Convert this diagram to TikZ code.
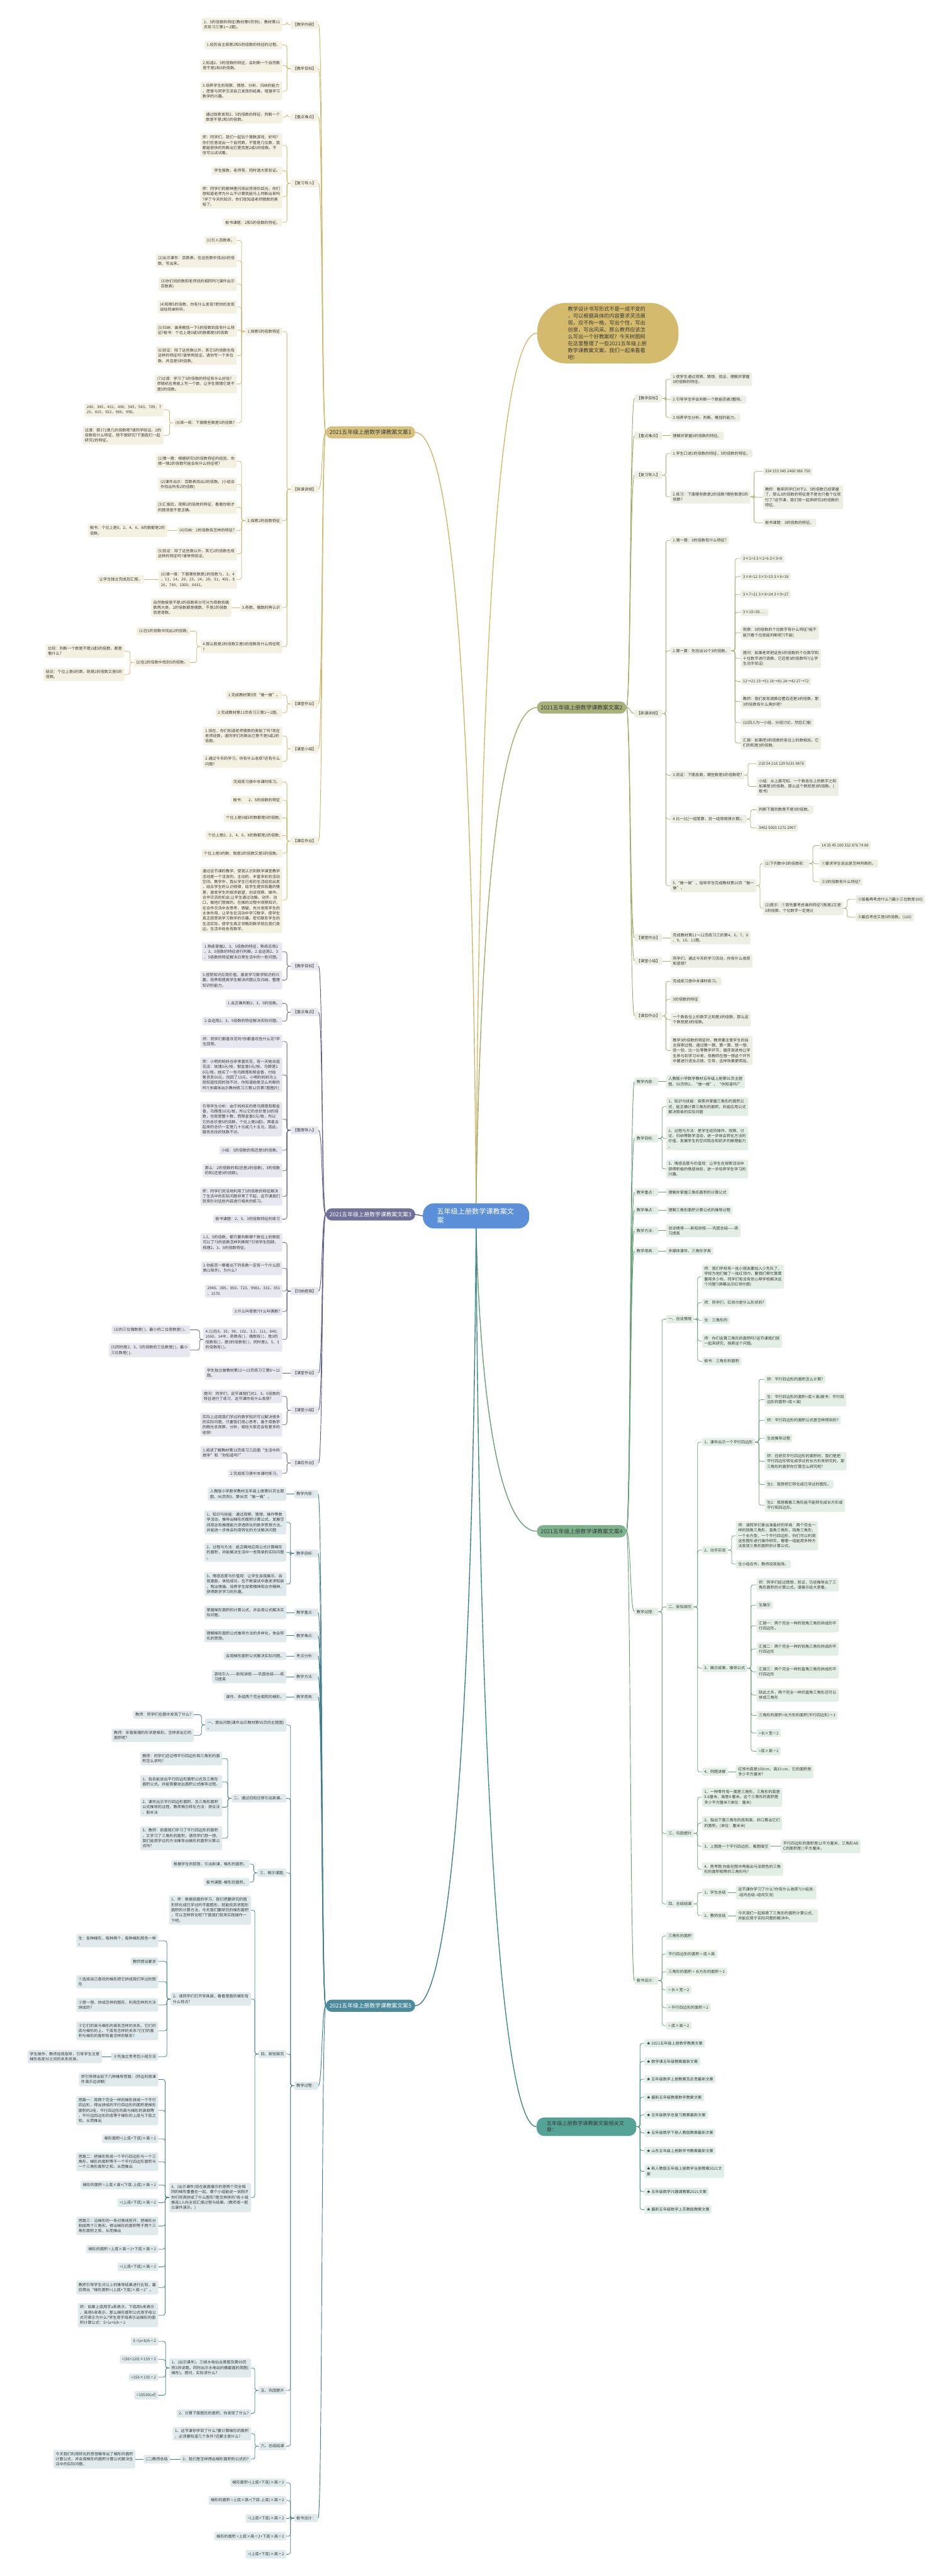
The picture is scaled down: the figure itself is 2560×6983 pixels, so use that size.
\documentclass[tikz,border=0pt]{standalone}
\usepackage{fontspec}
\setmainfont{Noto Sans CJK SC}

\definecolor{txt}{HTML}{3A3A3A}
\definecolor{cmid}{HTML}{5B8FD8}
\definecolor{cgold}{HTML}{D3BA6C}
\definecolor{br1}{HTML}{D6C27E}\definecolor{ln1}{HTML}{CDB86C}\definecolor{lf1}{HTML}{F4F1E2}
\definecolor{br2}{HTML}{A8B27A}\definecolor{ln2}{HTML}{A3AC6C}\definecolor{lf2}{HTML}{EEEFE4}
\definecolor{br3}{HTML}{70709A}\definecolor{ln3}{HTML}{5F5F88}\definecolor{lf3}{HTML}{E7E7EF}
\definecolor{br4}{HTML}{7CB38C}\definecolor{ln4}{HTML}{69A07A}\definecolor{lf4}{HTML}{E3EEE6}
\definecolor{br5}{HTML}{4B8B9B}\definecolor{ln5}{HTML}{3F7E8E}\definecolor{lf5}{HTML}{E0EAED}
\definecolor{br6}{HTML}{55A396}\definecolor{ln6}{HTML}{3E8C80}\definecolor{lf6}{HTML}{E1EFEB}
\colorlet{ln}{ln1}\colorlet{lf}{lf1}

\tikzset{
  leaf/.style={fill=lf, rounded corners=4pt, inner xsep=6pt, inner ysep=6pt,
    align=left, text=txt, font=\fontsize{10.5}{14.2}\selectfont},
  branch/.style={fill=#1, rounded corners=16pt, minimum width=242pt,
    minimum height=33pt, inner sep=0pt, font=\fontsize{15}{18}\selectfont},
  lk/.style={draw=ln, line width=1.3pt, rounded corners=6pt},
  sk/.style={draw=ln, line width=1.6pt},
  mk/.style={draw=#1, line width=2.4pt},
}

\begin{document}
\begin{tikzpicture}[x=1pt, y=-1pt]
  \fill[white] (0,0) rectangle (2560,6983);
  \useasboundingbox (0,0) rectangle (2560,6983);

  % centre and intro
  \node[fill=cmid, text=white, rounded corners=30pt, minimum width=288pt, minimum height=68pt,
    text width=212pt, inner xsep=38pt, align=left, font=\fontsize{19}{25}\selectfont]
    (c) at (1290,3296) {五年级上册数学课教案文\\案};
  \node[fill=cgold, text=txt, rounded corners=78pt, minimum width=383pt, minimum height=164pt,
    text width=216pt, inner xsep=83pt, align=left, font=\fontsize{14}{18.6}\selectfont]
    (g) at (1647,903) {教学设计书写形式不是一成不变的\\，可以根据具体的内容要求灵活展\\现，应不拘一格，写出个性，写出\\创意，写出风采。那么教师应该怎\\么写出一个好教案呢? 今天树图网\\在这里整理了一些2021五年级上册\\数学课教案文案，我们一起来看看\\吧!};

  % lesson 1
  \colorlet{ln}{ln1}\colorlet{lf}{lf1}
  \node[branch=br1, text=txt] (p1) at (1004,1172) {2021五年级上册数学课教案文案1};
  \node[leaf, anchor=east] (sa1) at (863,67) {【教学内容】};
  \node[leaf, anchor=east] (sa2) at (863,186) {【教学目标】};
  \node[leaf, anchor=east] (sa3) at (863,317) {【重点难点】};
  \node[leaf, anchor=east] (sa4) at (863,497) {【复习导入】};
  \node[leaf, anchor=east] (sa5) at (863,1326) {【新课讲授】};
  \node[leaf, anchor=east] (sa6) at (863,1908) {【课堂作业】};
  \node[leaf, anchor=east] (sa7) at (863,2030) {【课堂小结】};
  \node[leaf, anchor=east] (sa8) at (863,2280) {【课后作业】};
  \node[leaf, anchor=east] (a11) at (765,67) {2、5的倍数的特征(教材第9页例1，教材第11\\页练习三第1～2题)。};
  \node[leaf, anchor=east] (a21) at (765,122) {1.经历自主探索2和5的倍数的特征的过程。};
  \node[leaf, anchor=east] (a22) at (765,178) {2.知道2、5的倍数的特征，会判断一个自然数\\是不是2和5的倍数。};
  \node[leaf, anchor=east] (a23) at (765,247) {3.培养学生的观察、猜想、分析、归纳的能力\\，愿意与同学交流自己发现的结果，增强学习\\数学的兴趣。};
  \node[leaf, anchor=east] (a31) at (765,317) {通过探索发现2、5的倍数的特征，判断一个\\数是不是2和5的倍数。};
  \node[leaf, anchor=east] (a41) at (765,394) {师：同学们，我们一起玩个猜数游戏，好吗?\\你们任意说出一个自然数，不管是几位数，我\\都能很快的判断出它是否是2或5的倍数。不\\信可以试试看。};
  \node[leaf, anchor=east] (a42) at (765,463) {学生报数，老师答，同时请大家验证。};
  \node[leaf, anchor=east] (a43) at (765,533) {师：同学们的眼神里闪现出惊讶的目光。你们\\想知道老师为什么不计算就能马上判断出来吗\\?学了今天的知识，你们就知道老师猜数的奥\\秘了。};
  \node[leaf, anchor=east] (a44) at (765,603) {板书课题：2和5的倍数的特征。};
  \node[leaf, anchor=east] (a51) at (765,899) {1.探索5的倍数特征};
  \node[leaf, anchor=east] (a52) at (765,1411) {2.探索2的倍数特征};
  \node[leaf, anchor=east] (a53) at (765,1647) {3.奇数、偶数的再认识};
  \node[leaf, anchor=east] (a54) at (765,1753) {4.那么既是2的倍数又是5的倍数有什么特征呢\\?};
  \node[leaf, anchor=east] (a511) at (642,652) {(1)引入百数表。};
  \node[leaf, anchor=east] (a512) at (642,707) {(2)出示课件：百数表，在这些数中找出5的倍\\数，写出来。};
  \node[leaf, anchor=east] (a513) at (642,770) {(3)你们找的数和老师找的相同吗?(课件出示\\百数表)};
  \node[leaf, anchor=east] (a514) at (642,832) {(4)观察5的倍数，你有什么发现?把你的发现\\说给同桌听听。};
  \node[leaf, anchor=east] (a515) at (642,895) {(5)归纳：谁来概括一下5的倍数到底有什么特\\征?板书：个位上是0或5的数都是5的倍数};
  \node[leaf, anchor=east] (a516) at (642,964) {(6)验证：除了这些数以外，其它5的倍数也有\\这样的特征吗?请举例验证。请你写一个多位\\数，并且是5的倍数。};
  \node[leaf, anchor=east] (a517) at (642,1041) {(7)过渡：学习了5的倍数的特征有什么好处?\\师随机在黑板上写一个数，让学生猜猜它是不\\是5的倍数。};
  \node[leaf, anchor=east] (a518) at (642,1146) {(8)练一练：下面哪些数是5的倍数?};
  \node[leaf, anchor=east] (a5181) at (443,1111) {240，345，431，490，545，543，709，7\\25，815，922，986，990。};
  \node[leaf, anchor=east] (a5182) at (443,1180) {过渡：那172是几的倍数呢?请同学验证。2的\\倍数有什么特征，想不想研究?下面我们一起\\研究2的特征。};
  \node[leaf, anchor=east] (a521) at (642,1250) {(1)猜一猜：根据研究5的倍数特征的经验，你\\猜一猜2的倍数可能会有什么特征呢?};
  \node[leaf, anchor=east] (a522) at (642,1313) {(2)课件出示：百数表找出2的倍数。(小组合\\作找出所有2的倍数)};
  \node[leaf, anchor=east] (a523) at (642,1375) {(3)汇报后，观察2的倍数的特征，看看你刚才\\的猜测是不是正确。};
  \node[leaf, anchor=east] (a524) at (642,1438) {(4)归纳：2的倍数有怎样的特征?};
  \node[leaf, anchor=east] (a525) at (642,1501) {(5)验证：除了这些数以外，其它2的倍数也有\\这样的特征吗?请举例验证。};
  \node[leaf, anchor=east] (a526) at (642,1571) {(6)填一填：下面哪些数是2的倍数?1，3，4\\，11，14，20，23，24，28，31，401，8\\26，740，1000，6431。};
  \node[leaf, anchor=east] (a5241) at (453,1438) {板书：个位上是0、2、4、6、8的数都是2的\\倍数。};
  \node[leaf, anchor=east] (a5261) at (391,1571) {让学生独立完成后汇报。};
  \node[leaf, anchor=east] (a531) at (627,1647) {自然数按是不是2的倍数来分可分为奇数和偶\\数两大类，2的倍数都是偶数，不是2的倍数\\就是奇数。};
  \node[leaf, anchor=east] (a541) at (515,1711) {(1)在5的倍数中找出2的倍数;};
  \node[leaf, anchor=east] (a542) at (515,1796) {(2)在2的倍数中找到5的倍数。};
  \node[leaf, anchor=east] (a5421) at (337,1765) {比较：判断一个数是不是2或5的倍数，都是\\看什么?};
  \node[leaf, anchor=east] (a5422) at (337,1828) {结论：个位上是0的数，既是2的倍数又是5的\\倍数。};
  \node[leaf, anchor=east] (a61) at (765,1884) {1.完成教材第9页“做一做”。};
  \node[leaf, anchor=east] (a62) at (765,1932) {2.完成教材第11页练习三第1～2题。};
  \node[leaf, anchor=east] (a71) at (765,1995) {1.现在，你们知道老师猜数的奥秘了吗?现在\\老师说数，请同学们判断出它是不是5或2的\\倍数。};
  \node[leaf, anchor=east] (a72) at (765,2064) {2.通过今天的学习，你有什么收获?还有什么\\问题?};
  \node[leaf, anchor=east] (a81) at (765,2120) {完成练习册中本课时练习。};
  \node[leaf, anchor=east] (a82) at (765,2169) {板书：　2、5的倍数的特征};
  \node[leaf, anchor=east] (a83) at (765,2217) {个位上是0或5的数都是5的倍数;};
  \node[leaf, anchor=east] (a84) at (765,2265) {个位上是0、2、4、6、8的数都是2的倍数;};
  \node[leaf, anchor=east] (a85) at (765,2313) {个位上是0的数，既是2的倍数又是5的倍数。};
  \node[leaf, anchor=east] (a86) at (765,2440) {通过这节课的教学，使我认识到数学课堂教学\\活动是一个活泼的、主动的、丰富多彩的活动\\空间。教学中，我从学生已有的生活经验出发\\，结合学生的认识规律，给学生提供有趣的情\\景，激发学生的探求欲望，创设观察、操作、\\合作交流的机会;让学生通过动脑、动手、动\\口，做他们想做的，在做的过程中观察知识，\\在合作交流中去思考、质疑。充分发挥学生的\\主体作用，让学生在活动中学习数学，使学生\\真正感受到学习数学的乐趣。密切联系学生的\\生活实际，使学生真正领略到数学就在我们身\\边，生活中处处有数学。};
  \foreach \n in {sa1,sa2,sa3,sa4,sa5,sa6,sa7,sa8}
    \draw[sk] (p1.west) .. controls +(-12,0) and +(12,0) .. (\n.east);
  \draw[lk] (sa1.west) -- ++(-10,0) |- (a11.east);
  \foreach \n in {a21,a22,a23} \draw[lk] (sa2.west) -- ++(-10,0) |- (\n.east);
  \draw[lk] (sa3.west) -- ++(-10,0) |- (a31.east);
  \foreach \n in {a41,a42,a43,a44} \draw[lk] (sa4.west) -- ++(-10,0) |- (\n.east);
  \foreach \n in {a51,a52,a53,a54} \draw[lk] (sa5.west) -- ++(-10,0) |- (\n.east);
  \foreach \n in {a511,a512,a513,a514,a515,a516,a517,a518} \draw[lk] (a51.west) -- ++(-10,0) |- (\n.east);
  \foreach \n in {a5181,a5182} \draw[lk] (a518.west) -- ++(-10,0) |- (\n.east);
  \foreach \n in {a521,a522,a523,a524,a525,a526} \draw[lk] (a52.west) -- ++(-10,0) |- (\n.east);
  \draw[lk] (a524.west) -- (a5241.east);
  \draw[lk] (a526.west) -- (a5261.east);
  \draw[lk] (a53.west) -- (a531.east);
  \foreach \n in {a541,a542} \draw[lk] (a54.west) -- ++(-10,0) |- (\n.east);
  \foreach \n in {a5421,a5422} \draw[lk] (a542.west) -- ++(-10,0) |- (\n.east);
  \foreach \n in {a61,a62} \draw[lk] (sa6.west) -- ++(-10,0) |- (\n.east);
  \foreach \n in {a71,a72} \draw[lk] (sa7.west) -- ++(-10,0) |- (\n.east);
  \foreach \n in {a81,a82,a83,a84,a85,a86} \draw[lk] (sa8.west) -- ++(-10,0) |- (\n.east);

  % lesson 3
  \colorlet{ln}{ln3}\colorlet{lf}{lf3}
  \node[branch=br3, text=white] (p3) at (1004,3292) {2021五年级上册数学课教案文案3};
  \node[leaf, anchor=east] (sc1) at (863,2619) {【教学目标】};
  \node[leaf, anchor=east] (sc2) at (863,2744) {【重点难点】};
  \node[leaf, anchor=east] (sc3) at (863,3064) {【整理导入】};
  \node[leaf, anchor=east] (sc4) at (863,3500) {【归纳提高】};
  \node[leaf, anchor=east] (sc5) at (863,3722) {【课堂作业】};
  \node[leaf, anchor=east] (sc6) at (863,3823) {【课堂小结】};
  \node[leaf, anchor=east] (sc7) at (863,3966) {【课后作业】};
  \node[leaf, anchor=east] (c11) at (765,2580) {1.熟练掌握2、3、5倍数的特征，熟练应用2\\、3、5倍数的特征进行判断。2.会运用2、3\\、5倍数的特征解决日常生活中的一些问题。};
  \node[leaf, anchor=east] (c12) at (765,2657) {3.感受知识应用价值，激发学习数学知识的兴\\趣，培养和提高学生解决问题以及归纳、整理\\知识的能力。};
  \node[leaf, anchor=east] (c21) at (765,2720) {1.会正确判断2、3、5的倍数。};
  \node[leaf, anchor=east] (c22) at (765,2768) {2.会运用2、3、5倍数的特征解决实际问题。};
  \node[leaf, anchor=east] (c31) at (765,2823) {师：同学们都喜欢花吗?你都喜欢些什么花?学\\生回答。};
  \node[leaf, anchor=east] (c32) at (765,2914) {师：小明的妈妈也非常喜欢花，有一天她去逛\\花店：玫瑰3元/枝，郁金香5元/枝，马蹄莲1\\0元/枝，她买了一些马蹄莲和郁金香，付给\\售货员50元，找回了13元，小明的妈妈马上\\就知道找回的钱不对。你知道她是怎么判断的\\吗?(多媒体出示教材练习三第12页第7题图片)};
  \node[leaf, anchor=east] (c33) at (765,3034) {引导学生分析：由于妈妈买的是马蹄莲和郁金\\香，马蹄莲10元/枝，所以它的总价是10的倍\\数，也就是整十数，而郁金香5元/枝，所以\\它的总价是5的倍数，个位上是0或5，两者合\\起来的总价一定是几十元或几十五元，因此，\\服务员找的钱数不对。};
  \node[leaf, anchor=east] (c34) at (765,3118) {小结：5的倍数的和还是5的倍数。};
  \node[leaf, anchor=east] (c35) at (765,3173) {那么：2的倍数的和(还是2的倍数)，3的倍数\\的和(还是3的倍数)。};
  \node[leaf, anchor=east] (c36) at (765,3243) {师：同学们灵活地利用了5的倍数的特征解决\\了生活中的实际问题非常了不起，这节课我们\\就来针对这些内容进行相关的练习。};
  \node[leaf, anchor=east] (c37) at (765,3305) {板书课题：2、5、3的倍数特征的练习};
  \node[leaf, anchor=east] (c41) at (765,3368) {1.2、5的倍数，都只要判断哪个数位上的数就\\可以了?3的倍数怎样判断呢?引领学生回顾，\\梳理2、3、5的倍数特征。};
  \node[leaf, anchor=east] (c42) at (765,3438) {2.你能否一眼看出下列各数一定有一个什么因\\数(1除外)，为什么?};
  \node[leaf, anchor=east] (c43) at (765,3500) {2940、305、850、723、9981、332、351\\、1570.};
  \node[leaf, anchor=east] (c44) at (765,3555) {3.什么叫奇数?什么叫偶数?};
  \node[leaf, anchor=east] (c45) at (765,3631) {4.(1)在8，35，96，102，3.2，111，840，\\1060，14中，奇数有( )，偶数有( )，是3的\\倍数有( )，是5的倍数有( )，同时是2、5、3\\的倍数有( )。};
  \node[leaf, anchor=east] (c451) at (515,3605) {(2)的三位偶数是( )，最小的二位奇数是( )。};
  \node[leaf, anchor=east] (c452) at (515,3660) {(3)同时是2、3、5的倍数的三位数是( )，最小\\三位数是( )。};
  \node[leaf, anchor=east] (c51) at (765,3722) {学生独立做教材第12～13页练习三第8～12\\题。};
  \node[leaf, anchor=east] (c61) at (765,3785) {提问：同学们，这节课我们对2、3、5倍数的\\特征进行了练习，这节课你有什么收获?};
  \node[leaf, anchor=east] (c62) at (765,3862) {实际上运用我们学过的数学知识可以解决很多\\的实际问题，只要我们用心思考，善于用数学\\的眼光去观察，分析，相信大家还会有更多的\\收获!};
  \node[leaf, anchor=east] (c71) at (765,3938) {1.阅读了解教材第13页练习三后面“生活中的\\数学”和“你知道吗?”};
  \node[leaf, anchor=east] (c72) at (765,3994) {2.完成练习册中本课时练习。};
  \foreach \n in {sc1,sc2,sc3,sc4,sc5,sc6,sc7}
    \draw[sk] (p3.west) .. controls +(-12,0) and +(12,0) .. (\n.east);
  \foreach \n in {c11,c12} \draw[lk] (sc1.west) -- ++(-10,0) |- (\n.east);
  \foreach \n in {c21,c22} \draw[lk] (sc2.west) -- ++(-10,0) |- (\n.east);
  \foreach \n in {c31,c32,c33,c34,c35,c36,c37} \draw[lk] (sc3.west) -- ++(-10,0) |- (\n.east);
  \foreach \n in {c41,c42,c43,c44,c45} \draw[lk] (sc4.west) -- ++(-10,0) |- (\n.east);
  \foreach \n in {c451,c452} \draw[lk] (c45.west) -- ++(-10,0) |- (\n.east);
  \draw[lk] (sc5.west) -- (c51.east);
  \foreach \n in {c61,c62} \draw[lk] (sc6.west) -- ++(-10,0) |- (\n.east);
  \foreach \n in {c71,c72} \draw[lk] (sc7.west) -- ++(-10,0) |- (\n.east);

  % lesson 5
  \colorlet{ln}{ln5}\colorlet{lf}{lf5}
  \node[branch=br5, text=white] (p5) at (1004,5437) {2021五年级上册数学课教案文案5};
  \node[leaf, anchor=east] (se1) at (862,4050) {教学内容：};
  \node[leaf, anchor=east] (se2) at (862,4211) {教学目标：};
  \node[leaf, anchor=east] (se3) at (862,4371) {教学重点：};
  \node[leaf, anchor=east] (se4) at (862,4434) {教学难点：};
  \node[leaf, anchor=east] (se5) at (862,4489) {考点分析：};
  \node[leaf, anchor=east] (se6) at (862,4545) {教学方法：};
  \node[leaf, anchor=east] (se7) at (862,4600) {教学用具：};
  \node[leaf, anchor=east] (se8) at (862,5654) {教学过程：};
  \node[leaf, anchor=east] (se9) at (862,6826) {板书设计：};
  \node[leaf, anchor=east] (e11) at (776,4050) {人教版小学数学教材五年级上册第95页主题\\图、96页例3、第96页“做一做”，};
  \node[leaf, anchor=east] (e21) at (776,4127) {1、知识与技能：通过观察、猜想、操作等数\\学活动，推导出梯形的面积计算公式。发展空\\间观念和推理能力渗透转化的数学思想方法。\\并能进一步体会利用转化的方法解决问题};
  \node[leaf, anchor=east] (e22) at (776,4208) {2、过程与方法：能正确地应用公式计算梯形\\的面积，并能解决生活中一些简单的实际问题\\。};
  \node[leaf, anchor=east] (e23) at (776,4294) {3、情感态度与价值观：让学生自我展示、自\\我激励，体验成功，在不断尝试中激发求知欲\\，陶冶情操。培养学生探索精神和合作精神，\\获得数学学习的乐趣。};
  \node[leaf, anchor=east] (e31) at (776,4371) {掌握梯形面积的计算公式，并会用公式解决实\\际问题。};
  \node[leaf, anchor=east] (e41) at (776,4434) {理解梯形面积公式推导方法的多样化，体会转\\化的思想。};
  \node[leaf, anchor=east] (e51) at (776,4489) {会用梯形面积公式解决实际问题。};
  \node[leaf, anchor=east] (e61) at (776,4545) {游戏引入——新知讲授——巩固总结——练\\习提高};
  \node[leaf, anchor=east] (e71) at (776,4600) {课件、多组两个完全相同的梯形。};
  \node[leaf, anchor=east] (e81) at (776,4676) {一、提出问题(课件出示教材第95页的主题图)\\。};
  \node[leaf, anchor=east] (e811) at (525,4648) {教师：同学们在图中发现了什么?};
  \node[leaf, anchor=east] (e812) at (525,4704) {教师：车窗玻璃的形状是梯形。怎样求出它的\\面积呢?};
  \node[leaf, anchor=east] (e82) at (776,4875) {二、通过旧知迁移引出新课。};
  \node[leaf, anchor=east] (e821) at (602,4767) {教师：同学们还记得平行四边形和三角形的面\\积怎么求吗?};
  \node[leaf, anchor=east] (e822) at (602,4830) {1、指名能说出平行四边形面积公式及三角形\\面积公式。并能简要说出面积公式推导过程。};
  \node[leaf, anchor=east] (e823) at (602,4899) {2、课件出示平行四边形面积、及三角形面积\\公式推导的过程，教师揭示转化方法：拼合法\\、割补法};
  \node[leaf, anchor=east] (e824) at (602,4983) {3、教师：前面我们学习了平行四边形的面积\\，又学习了三角形的面积，请同学们想一想，\\我们能用学过的方法推导出梯形的面积计算公\\式吗?};
  \node[leaf, anchor=east] (e83) at (776,5077) {三、揭示课题;};
  \node[leaf, anchor=east] (e831) at (676,5053) {根据学生的回答，引出新课，梯形的面积。};
  \node[leaf, anchor=east] (e832) at (676,5102) {板书课题--梯形的面积。};
  \node[leaf, anchor=east] (e84) at (776,5568) {四、新知探究};
  \node[leaf, anchor=east] (e841) at (680,5178) {1、师：根据前面的学习，我们把要研究的图\\形转化成已学过的平面图形，就能找到求图形\\面积的计算方法，今天我们要研究的梯形面积\\，可以怎样转化呢?下面我们就来实践操作一\\下吧。};
  \node[leaf, anchor=east] (e842) at (680,5419) {2、请同学们打开学具袋，看看里面的梯形有\\什么特点?};
  \node[leaf, anchor=east] (e8421) at (429,5261) {生：各种梯形，每种两个，每种梯形颜色一样\\。};
  \node[leaf, anchor=east] (e8422) at (429,5317) {教师提出要求};
  \node[leaf, anchor=east] (e8423) at (429,5372) {①选择自己喜欢的梯形把它拼成我们学过的图\\形};
  \node[leaf, anchor=east] (e8424) at (429,5435) {②想一想，拼成怎样的图形，利用怎样的方法\\拼成的?};
  \node[leaf, anchor=east] (e8425) at (429,5505) {③它们的高与梯形的高有怎样的关系，它们的\\底与梯形的上、下底有怎样的关系?它们的面\\积与梯形的面积有着怎样的联系?};
  \node[leaf, anchor=east] (e8426) at (429,5575) {④先独立思考后小组交流};
  \node[leaf, anchor=east] (e84261) at (276,5575) {学生操作，教师巡视指导，引导学生注意\\梯形各部分之间的关系找准。};
  \node[leaf, anchor=east] (e843) at (680,5957) {3、(出示课件)现在画面展示的是两个完全相\\同的梯形重叠在一起，哪个小组能说一说刚才\\你们将其拼成了什么图形?是怎样拼的?各小组\\推选1人向全班汇报过程与结果。(教师逐一配\\以课件演示。)};
  \node[leaf, anchor=east] (e843a) at (429,5637) {师引导得出如下几种推导思路：(师边利用课\\件演示边讲解)};
  \node[leaf, anchor=east] (e843b) at (429,5721) {思路一：用两个完全一样的梯形拼成一个平行\\四边形，得出拼成的平行四边形的面积是梯形\\面积的2倍，平行四边形的高与梯形的高相等\\，平行边四边形的底等于梯形的上底与下底之\\和，从而推出};
  \node[leaf, anchor=east] (e843c) at (429,5798) {梯形面积=(上底+下底)×高÷2};
  \node[leaf, anchor=east] (e843d) at (429,5860) {思路二：把梯形剪成一个平行四边形与一个三\\角形，梯形的面积等于一个平行四边形面积与\\一个三角形面积之和，从而推出};
  \node[leaf, anchor=east] (e843e) at (429,5923) {梯形的面积 =上底×高+(下底-上底)×高÷2};
  \node[leaf, anchor=east] (e843f) at (429,5971) {=(上底+下底)×高÷2};
  \node[leaf, anchor=east] (e843g) at (429,6034) {思路三：沿梯形的一条对角线剪开，把梯形分\\割成两个三角形。得出梯形的面积等于两个三\\角形面积之和，从而推出};
  \node[leaf, anchor=east] (e843h) at (429,6097) {梯形的面积 =上底×高÷2+下底×高÷2};
  \node[leaf, anchor=east] (e843i) at (429,6145) {=(上底+下底)×高÷2};
  \node[leaf, anchor=east] (e843j) at (429,6201) {教师引导学生对以上的推导结果进行比较，最\\后得出“梯形面积=(上底+下底)×高÷2”。};
  \node[leaf, anchor=east] (e843k) at (429,6276) {师：如果上底用字a来表示，下底用b来表示\\，高用h来表示，那么梯形面积公式用字母公\\式可表示为什么?学生用字母表示出梯形的面\\积计算公式：S=(a+b)h÷2};
  \node[leaf, anchor=east] (e85) at (776,6480) {五、巩固提升};
  \node[leaf, anchor=east] (e851) at (680,6419) {1、(出示课件)，三峡水电站全景图及第89页\\例3并读题。同时出示水电站的横截面的简图(\\梯形)。提问，实际求什么?};
  \node[leaf, anchor=east] (e851a) at (429,6347) {S =(a+b)h÷2};
  \node[leaf, anchor=east] (e851b) at (429,6396) {=(36+120)×135÷2};
  \node[leaf, anchor=east] (e851c) at (429,6444) {=156×135÷2};
  \node[leaf, anchor=east] (e851d) at (429,6493) {=10530(㎡)};
  \node[leaf, anchor=east] (e852) at (680,6542) {2、计算下面图形的面积，你发现了什么?};
  \node[leaf, anchor=east] (e86) at (776,6631) {六、总结结课};
  \node[leaf, anchor=east] (e861) at (680,6597) {1、这节课你学到了什么?要计算梯形的面积\\，必须要知道几个条件?还要注意什么?};
  \node[leaf, anchor=east] (e862) at (680,6666) {2、我们是怎样得出梯形面积的公式的?};
  \node[leaf, anchor=east] (e8621) at (461,6666) {(二)教师总结};
  \node[leaf, anchor=east] (e8622) at (367,6666) {今天我们利用转化的思想推导出了梯形的面积\\计算公式，并会用梯形的面积计算公式解决生\\活中的实际问题。};
  \node[leaf, anchor=east] (e91) at (776,6730) {梯形面积=(上底+下底)×高÷2};
  \node[leaf, anchor=east] (e92) at (776,6778) {梯形的面积 =上底×高+(下底-上底)×高÷2};
  \node[leaf, anchor=east] (e93) at (776,6827) {=(上底+下底)×高÷2};
  \node[leaf, anchor=east] (e94) at (776,6875) {梯形的面积 =上底×高÷2+下底×高÷2};
  \node[leaf, anchor=east] (e95) at (776,6924) {=(上底+下底)×高÷2};
  \foreach \n in {se1,se2,se3,se4,se5,se6,se7,se8,se9}
    \draw[sk] (p5.west) .. controls +(-12,0) and +(12,0) .. (\n.east);
  \draw[lk] (se1.west) -- (e11.east);
  \foreach \n in {e21,e22,e23} \draw[lk] (se2.west) -- ++(-10,0) |- (\n.east);
  \draw[lk] (se3.west) -- (e31.east);
  \draw[lk] (se4.west) -- (e41.east);
  \draw[lk] (se5.west) -- (e51.east);
  \draw[lk] (se6.west) -- (e61.east);
  \draw[lk] (se7.west) -- (e71.east);
  \foreach \n in {e81,e82,e83,e84,e85,e86} \draw[lk] (se8.west) -- ++(-10,0) |- (\n.east);
  \foreach \n in {e811,e812} \draw[lk] (e81.west) -- ++(-10,0) |- (\n.east);
  \foreach \n in {e821,e822,e823,e824} \draw[lk] (e82.west) -- ++(-10,0) |- (\n.east);
  \foreach \n in {e831,e832} \draw[lk] (e83.west) -- ++(-10,0) |- (\n.east);
  \foreach \n in {e841,e842,e843} \draw[lk] (e84.west) -- ++(-10,0) |- (\n.east);
  \foreach \n in {e8421,e8422,e8423,e8424,e8425,e8426} \draw[lk] (e842.west) -- ++(-10,0) |- (\n.east);
  \draw[lk] (e8426.west) -- (e84261.east);
  \foreach \n in {e843a,e843b,e843c,e843d,e843e,e843f,e843g,e843h,e843i,e843j,e843k}
    \draw[lk] (e843.west) -- ++(-10,0) |- (\n.east);
  \foreach \n in {e851,e852} \draw[lk] (e85.west) -- ++(-10,0) |- (\n.east);
  \foreach \n in {e851a,e851b,e851c,e851d} \draw[lk] (e851.west) -- ++(-10,0) |- (\n.east);
  \foreach \n in {e861,e862} \draw[lk] (e86.west) -- ++(-10,0) |- (\n.east);
  \draw[lk] (e862.west) -- (e8621.east);
  \draw[lk] (e8621.west) -- (e8622.east);
  \foreach \n in {e91,e92,e93,e94,e95} \draw[lk] (se9.west) -- ++(-10,0) |- (\n.east);

  % lesson 2
  \colorlet{ln}{ln2}\colorlet{lf}{lf2}
  \node[branch=br2, text=txt] (p2) at (1576,1918) {2021五年级上册数学课教案文案2};
  \node[leaf, anchor=west] (sb1) at (1719,1080) {【教学目标】};
  \node[leaf, anchor=west] (sb2) at (1719,1181) {【重点难点】};
  \node[leaf, anchor=west] (sb3) at (1719,1288) {【复习导入】};
  \node[leaf, anchor=west] (sb4) at (1719,1934) {【新课讲授】};
  \node[leaf, anchor=west] (sb5) at (1719,2542) {【课堂作业】};
  \node[leaf, anchor=west] (sb6) at (1719,2605) {【课堂小结】};
  \node[leaf, anchor=west] (sb7) at (1719,2754) {【课后作业】};
  \node[leaf, anchor=west] (b11) at (1817,1028) {1.使学生通过观察、猜想、验证、理解并掌握\\3的倍数的特征。};
  \node[leaf, anchor=west] (b12) at (1817,1083) {2.引导学生学会判断一个数能否被3整除。};
  \node[leaf, anchor=west] (b13) at (1817,1132) {3.培养学生分析、判断、概括的能力。};
  \node[leaf, anchor=west] (b21) at (1817,1181) {理解并掌握3的倍数的特征。};
  \node[leaf, anchor=west] (b31) at (1817,1229) {1.学生口述2的倍数的特征，5的倍数的特征。};
  \node[leaf, anchor=west] (b32) at (1817,1347) {2.练习：下面哪些数是2的倍数?哪些数是5的\\倍数?};
  \node[leaf, anchor=west] (b321) at (2067,1278) {324 153 345 2460 986 756};
  \node[leaf, anchor=west] (b322) at (2067,1348) {教师：看来同学们对于2、5的倍数已经掌握\\了，那么3的倍数的特征是不是也只看个位就\\行了?这节课，我们就一起来研究3的倍数的\\特征。};
  \node[leaf, anchor=west] (b323) at (2067,1417) {板书课题：3的倍数的特征。};
  \node[leaf, anchor=west] (b41) at (1817,1465) {1.猜一猜：3的倍数有什么特征?};
  \node[leaf, anchor=west] (b42) at (1817,1764) {2.算一算：先找出10个3的倍数。};
  \node[leaf, anchor=west] (b42a) at (2007,1514) {3×1=3 3×2=6 3×3=9};
  \node[leaf, anchor=west] (b42b) at (2007,1563) {3×4=12 3×5=15 3×6=18};
  \node[leaf, anchor=west] (b42c) at (2007,1611) {3×7=21 3×8=24 3×9=27};
  \node[leaf, anchor=west] (b42d) at (2007,1660) {3×10=30......};
  \node[leaf, anchor=west] (b42e) at (2007,1715) {观察：3的倍数的个位数字有什么特征?能不\\能只看个位就能判断呢?(不能)};
  \node[leaf, anchor=west] (b42f) at (2007,1785) {提问：如果老师把这些3的倍数的个位数字和\\十位数字进行调换，它还是3的倍数吗?(让学\\生动手验证)};
  \node[leaf, anchor=west] (b42g) at (2007,1847) {12→21 15→51 18→81 24→42 27→72};
  \node[leaf, anchor=west] (b42h) at (2007,1902) {教师：我们发现调换位置后还是3的倍数，那\\3的倍数有什么奥妙呢?};
  \node[leaf, anchor=west] (b42i) at (2007,1959) {(以四人为一小组、分组讨论，然后汇报)};
  \node[leaf, anchor=west] (b42j) at (2007,2014) {汇报：如果把3的倍数的各位上的数相加，它\\们的和是3的倍数。};
  \node[leaf, anchor=west] (b43) at (1817,2101) {3.验证：下面各数，哪些数是3的倍数呢?};
  \node[leaf, anchor=west] (b431) at (2050,2070) {210 54 216 129 9231 9876};
  \node[leaf, anchor=west] (b432) at (2050,2132) {小结：从上面可知，一个数各位上的数字之和\\如果是3的倍数，那么这个数就是3的倍数。(\\板书)};
  \node[leaf, anchor=west] (b44) at (1817,2220) {4.比一比(一组笔算，另一组用规律计算)。};
  \node[leaf, anchor=west] (b441) at (2050,2195) {判断下面的数是不是3的倍数。};
  \node[leaf, anchor=west] (b442) at (2050,2244) {3402 5003 1272 2967};
  \node[leaf, anchor=west] (b45) at (1817,2401) {5.“做一做”，指导学生完成教材第10页“做一\\做”。};
  \node[leaf, anchor=west] (b451) at (2067,2341) {(1)下列数中3的倍数有：};
  \node[leaf, anchor=west] (b4511) at (2220,2292) {14 35 45 100 332 876 74 88};
  \node[leaf, anchor=west] (b4512) at (2220,2341) {①要求学生说出是怎样判断的。};
  \node[leaf, anchor=west] (b4513) at (2220,2390) {②3的倍数有什么特征?};
  \node[leaf, anchor=west] (b452) at (2067,2462) {(2)提示：①首先要考虑谁的特征?(既是2又是\\5的倍数，个位数字一定是0)};
  \node[leaf, anchor=west] (b4521) at (2318,2438) {②接着再考虑什么?(最小三位数是100)};
  \node[leaf, anchor=west] (b4522) at (2318,2486) {③最后考虑又是3的倍数。(120)};
  \node[leaf, anchor=west] (b51) at (1817,2542) {完成教材第11～12页练习三的第4、6、7、8\\、9、10、11题。};
  \node[leaf, anchor=west] (b61) at (1817,2605) {同学们，通过今天的学习活动，你有什么收获\\和感想?};
  \node[leaf, anchor=west] (b71) at (1817,2660) {完成练习册中本课时练习。};
  \node[leaf, anchor=west] (b72) at (1817,2709) {3的倍数的特征};
  \node[leaf, anchor=west] (b73) at (1817,2764) {一个数各位上的数字之和是3的倍数，那么这\\个数就是3的倍数。};
  \node[leaf, anchor=west] (b74) at (1817,2848) {教学3的倍数的特征时，教师要注意学生的自\\主探索过程，通过猜一猜、算一算、想一想、\\验一验、比一比等教学环节，循序渐进地让学\\生参与到学习中来，但教师在想一想这个环节\\中要进行适当点拨、引导，这样效果更明显。};
  \foreach \n in {sb1,sb2,sb3,sb4,sb5,sb6,sb7}
    \draw[sk] (p2.east) .. controls +(12,0) and +(-12,0) .. (\n.west);
  \foreach \n in {b11,b12,b13} \draw[lk] (sb1.east) -- ++(10,0) |- (\n.west);
  \draw[lk] (sb2.east) -- (b21.west);
  \foreach \n in {b31,b32} \draw[lk] (sb3.east) -- ++(10,0) |- (\n.west);
  \foreach \n in {b321,b322,b323} \draw[lk] (b32.east) -- ++(10,0) |- (\n.west);
  \foreach \n in {b41,b42,b43,b44,b45} \draw[lk] (sb4.east) -- ++(10,0) |- (\n.west);
  \foreach \n in {b42a,b42b,b42c,b42d,b42e,b42f,b42g,b42h,b42i,b42j}
    \draw[lk] (b42.east) -- ++(10,0) |- (\n.west);
  \foreach \n in {b431,b432} \draw[lk] (b43.east) -- ++(10,0) |- (\n.west);
  \foreach \n in {b441,b442} \draw[lk] (b44.east) -- ++(10,0) |- (\n.west);
  \foreach \n in {b451,b452} \draw[lk] (b45.east) -- ++(10,0) |- (\n.west);
  \foreach \n in {b4511,b4512,b4513} \draw[lk] (b451.east) -- ++(10,0) |- (\n.west);
  \foreach \n in {b4521,b4522} \draw[lk] (b452.east) -- ++(10,0) |- (\n.west);
  \draw[lk] (sb5.east) -- (b51.west);
  \draw[lk] (sb6.east) -- (b61.west);
  \foreach \n in {b71,b72,b73,b74} \draw[lk] (sb7.east) -- ++(10,0) |- (\n.west);

  % lesson 4
  \colorlet{ln}{ln4}\colorlet{lf}{lf4}
  \node[branch=br4, text=txt] (p4) at (1576,4151) {2021五年级上册数学课教案文案4};
  \node[leaf, anchor=west] (sd1) at (1719,2932) {教学内容：};
  \node[leaf, anchor=west] (sd2) at (1719,3086) {教学目标：};
  \node[leaf, anchor=west] (sd3) at (1719,3232) {教学重点：};
  \node[leaf, anchor=west] (sd4) at (1719,3281) {教学难点：};
  \node[leaf, anchor=west] (sd5) at (1719,3336) {教学方法：};
  \node[leaf, anchor=west] (sd6) at (1719,3391) {教学用具：};
  \node[leaf, anchor=west] (sd7) at (1719,4369) {教学过程：};
  \node[leaf, anchor=west] (sd8) at (1719,5369) {板书设计：};
  \node[leaf, anchor=west] (d11) at (1805,2932) {人教版小学数学教材五年级上册第91页主题\\图、92页例2、“做一做”，“你知道吗?”};
  \node[leaf, anchor=west] (d21) at (1805,3000) {1、知识与技能：探索并掌握三角形的面积公\\式，能正确计算三角形的面积，并能应用公式\\解决简单的实际问题};
  \node[leaf, anchor=west] (d22) at (1805,3086) {2、过程与方法：是学生经历操作、观察、讨\\论、归纳等数学活动，进一步体会转化方法的\\价值，发展学生的空间观念和初步的推理能力\\。};
  \node[leaf, anchor=west] (d23) at (1805,3169) {3、情感态度与价值观：让学生在探索活动中\\获得积极的情感体验，进一步培养学生学习的\\兴趣。};
  \node[leaf, anchor=west] (d31) at (1805,3232) {理解并掌握三角形面积的计算公式};
  \node[leaf, anchor=west] (d41) at (1805,3281) {理解三角形面积计算公式的推导过程};
  \node[leaf, anchor=west] (d51) at (1805,3336) {创设情境——新知讲授——巩固总结——练\\习提高};
  \node[leaf, anchor=west] (d61) at (1805,3391) {多媒体课件、三角形学具};
  \node[leaf, anchor=west] (d71) at (1805,3576) {一、创设情境};
  \node[leaf, anchor=west] (d711) at (1902,3461) {师：我们学校有一批小朋友要加入少先队了，\\学校为他们做了一批红领巾，要我们帮忙算算\\要用多少布。同学们有没有信心帮学校解决这\\个问题?(屏幕出示红领巾图)};
  \node[leaf, anchor=west] (d712) at (1902,3531) {师：同学们，红领巾是什么形状的?};
  \node[leaf, anchor=west] (d713) at (1902,3579) {生：三角形的};
  \node[leaf, anchor=west] (d714) at (1902,3635) {师：你们会算三角形的面积吗?这节课我们就\\一起来研究，探索这个问题。};
  \node[leaf, anchor=west] (d715) at (1902,3690) {板书：三角形的面积};
  \node[leaf, anchor=west] (d72) at (1805,4356) {二、新知探究};
  \node[leaf, anchor=west] (d721) at (1902,3909) {1、课件出示一个平行四边形};
  \node[leaf, anchor=west] (d721a) at (2072,3739) {师：平行四边形的面积怎么计算?};
  \node[leaf, anchor=west] (d721b) at (2072,3794) {生：平行四边形的面积=底×高(板书：平行四\\边形的面积=底×高)};
  \node[leaf, anchor=west] (d721c) at (2072,3850) {师：平行四边形的面积公式是怎样得到的?};
  \node[leaf, anchor=west] (d721d) at (2072,3899) {生说推导过程};
  \node[leaf, anchor=west] (d721e) at (2072,3961) {师：在研究平行四边形的面积时，我们是把\\平行四边形转化成学过的长方形来研究的，那\\三角形的面积你打算怎么研究呢?};
  \node[leaf, anchor=west] (d721f) at (2072,4024) {生1：我想把它转化成已学过的图形。};
  \node[leaf, anchor=west] (d721g) at (2072,4080) {生2：我想看看三角形能不能转化成长方形或\\平行和四边形。};
  \node[leaf, anchor=west] (d722) at (1902,4202) {2、动手实验};
  \node[leaf, anchor=west] (d7221) at (1994,4163) {师：请同学们拿出准备好的学具：两个完全一\\样的锐角三角形，直角三角形，钝角三角形;\\一个长方型，一个平行四边形，你们可以利用\\这些图形进行操作研究，看哪一组能用多种方\\法发现三角形面积的计算公式。};
  \node[leaf, anchor=west] (d7222) at (1994,4240) {生小组合作，教师巡视指导。};
  \node[leaf, anchor=west] (d723) at (1902,4522) {3、展示成果，推导公式};
  \node[leaf, anchor=west] (d723a) at (2050,4296) {师：同学们经过猜想，验证，已经推导出了三\\角形面积的计算公式。请展示给大家看。};
  \node[leaf, anchor=west] (d723b) at (2050,4351) {生展示};
  \node[leaf, anchor=west] (d723c) at (2050,4407) {汇报一：两个完全一样的锐角三角形拼成的平\\行四边形。};
  \node[leaf, anchor=west] (d723d) at (2050,4470) {汇报二：两个完全一样的钝角三角形拼成的平\\行四边形};
  \node[leaf, anchor=west] (d723e) at (2050,4532) {汇报三：两个完全一样的直角三角形拼成的平\\行四边形};
  \node[leaf, anchor=west] (d723f) at (2050,4595) {除此之外，两个完全一样的直角三角形还可以\\拼成三角形};
  \node[leaf, anchor=west] (d723g) at (2050,4650) {三角形的面积=长方形的面积(平行四边形)÷2};
  \node[leaf, anchor=west] (d723h) at (2050,4698) {=长×宽÷2};
  \node[leaf, anchor=west] (d723i) at (2050,4747) {=底×高÷2};
  \node[leaf, anchor=west] (d724) at (1902,4803) {4、例题讲解};
  \node[leaf, anchor=west] (d7241) at (1994,4803) {红领巾底是100cm，高33 cm，它的面积是\\多少平方厘米?};
  \node[leaf, anchor=west] (d73) at (1805,4970) {三、巩固提升};
  \node[leaf, anchor=west] (d731) at (1902,4872) {1、一种零件有一面是三角形，三角形的底是\\5.6厘米，高是4 厘米。这个三角形的面积是\\多少平方厘米?(单位：厘米)};
  \node[leaf, anchor=west] (d732) at (1902,4942) {2、指出下面三角形的底和高，并口算出它们\\的面积。(单位：厘米米)};
  \node[leaf, anchor=west] (d733) at (1902,5005) {3、上图是一个平行四边形，看图填空};
  \node[leaf, anchor=west] (d7331) at (2116,5005) {平行四边形的面积是12平方厘米，三角形AB\\C的面积是( )平方厘米。};
  \node[leaf, anchor=west] (d734) at (1902,5067) {4、思考题 你能在图中再画出与涂颜色的三角\\形的面积相等的三角形吗?};
  \node[leaf, anchor=west] (d74) at (1805,5161) {四、总结结课};
  \node[leaf, anchor=west] (d741) at (1902,5130) {1、学生总结};
  \node[leaf, anchor=west] (d7411) at (1994,5130) {这节课你学习了什么?你有什么收获?(小组说-\\-组内总结--组间交流)};
  \node[leaf, anchor=west] (d742) at (1902,5193) {2、教师总结};
  \node[leaf, anchor=west] (d7421) at (1994,5193) {今天我们一起探索了三角形的面积计算公式，\\并能应用于实际问题的解决中。};
  \node[leaf, anchor=west] (d81) at (1805,5248) {三角形的面积};
  \node[leaf, anchor=west] (d82) at (1805,5297) {平行四边形的面积 = 底×高};
  \node[leaf, anchor=west] (d83) at (1805,5345) {三角形的面积 = 长方形的面积÷2};
  \node[leaf, anchor=west] (d84) at (1805,5394) {= 长×宽÷2};
  \node[leaf, anchor=west] (d85) at (1805,5442) {= 平行四边形的面积÷2};
  \node[leaf, anchor=west] (d86) at (1805,5491) {= 底×高÷2};
  \foreach \n in {sd1,sd2,sd3,sd4,sd5,sd6,sd7,sd8}
    \draw[sk] (p4.east) .. controls +(12,0) and +(-12,0) .. (\n.west);
  \draw[lk] (sd1.east) -- (d11.west);
  \foreach \n in {d21,d22,d23} \draw[lk] (sd2.east) -- ++(10,0) |- (\n.west);
  \draw[lk] (sd3.east) -- (d31.west);
  \draw[lk] (sd4.east) -- (d41.west);
  \draw[lk] (sd5.east) -- (d51.west);
  \draw[lk] (sd6.east) -- (d61.west);
  \foreach \n in {d71,d72,d73,d74} \draw[lk] (sd7.east) -- ++(10,0) |- (\n.west);
  \foreach \n in {d711,d712,d713,d714,d715} \draw[lk] (d71.east) -- ++(10,0) |- (\n.west);
  \foreach \n in {d721,d722,d723,d724} \draw[lk] (d72.east) -- ++(10,0) |- (\n.west);
  \foreach \n in {d721a,d721b,d721c,d721d,d721e,d721f,d721g} \draw[lk] (d721.east) -- ++(10,0) |- (\n.west);
  \foreach \n in {d7221,d7222} \draw[lk] (d722.east) -- ++(10,0) |- (\n.west);
  \foreach \n in {d723a,d723b,d723c,d723d,d723e,d723f,d723g,d723h,d723i} \draw[lk] (d723.east) -- ++(10,0) |- (\n.west);
  \draw[lk] (d724.east) -- (d7241.west);
  \foreach \n in {d731,d732,d733,d734} \draw[lk] (d73.east) -- ++(10,0) |- (\n.west);
  \draw[lk] (d733.east) -- (d7331.west);
  \foreach \n in {d741,d742} \draw[lk] (d74.east) -- ++(10,0) |- (\n.west);
  \draw[lk] (d741.east) -- (d7411.west);
  \draw[lk] (d742.east) -- (d7421.west);
  \foreach \n in {d81,d82,d83,d84,d85,d86} \draw[lk] (sd8.east) -- ++(10,0) |- (\n.west);

  % related articles
  \colorlet{ln}{ln6}\colorlet{lf}{lf6}
  \node[fill=br6, text=txt, rounded corners=20pt, anchor=west, minimum height=50pt,
    text width=216pt, inner xsep=27pt, align=left, font=\fontsize{14}{17}\selectfont]
    (pr) at (1454,5765) {五年级上册数学课教案文案相关文\\章：};
  \node[leaf, anchor=west] (r1) at (1746,5539) {★ 2021五年级上册数学教案文案};
  \node[leaf, anchor=west] (r2) at (1746,5588) {★ 数学课五年级教案最新文案};
  \node[leaf, anchor=west] (r3) at (1746,5636) {★ 五年级数学上册教案及反思最新文案};
  \node[leaf, anchor=west] (r4) at (1746,5685) {★ 最新五年级教案数学教案文案};
  \node[leaf, anchor=west] (r5) at (1746,5733) {★ 五年级数学总复习教案最新文案};
  \node[leaf, anchor=west] (r6) at (1746,5782) {★ 五年级数学下册人教版教案最新文案};
  \node[leaf, anchor=west] (r7) at (1746,5830) {★ 山东五年级上册数学书教案最新文案};
  \node[leaf, anchor=west] (r8) at (1746,5886) {★ 新人教版五年级上册数学全册教案2021文\\案};
  \node[leaf, anchor=west] (r9) at (1746,5941) {★ 五年级数学兴趣课教案2021文案};
  \node[leaf, anchor=west] (r10) at (1746,5990) {★ 最新五年级数学上苏教版教案文案};
  \foreach \n in {r1,r2,r3,r4,r5,r6,r7,r8,r9,r10} \draw[lk] (pr.east) -- ++(10,0) |- (\n.west);

  % main branches
  \draw[mk=ln3] (c.west) -- (p3.east);
  \draw[mk=ln1] (c.north) .. controls (1280,1700) and (1210,1172) .. (p1.east);
  \draw[mk=cgold] (c.north) .. controls (1300,1500) and (1370,903) .. (g.west);
  \draw[mk=ln2] (c.north) .. controls (1305,2300) and (1370,1918) .. (p2.west);
  \draw[mk=ln4] (c.south) .. controls (1305,3900) and (1370,4151) .. (p4.west);
  \draw[mk=ln6] (c.south) .. controls (1300,5000) and (1370,5765) .. (pr.west);
  \draw[mk=ln5] (c.south) .. controls (1280,4800) and (1210,5437) .. (p5.east);
\end{tikzpicture}
\end{document}
